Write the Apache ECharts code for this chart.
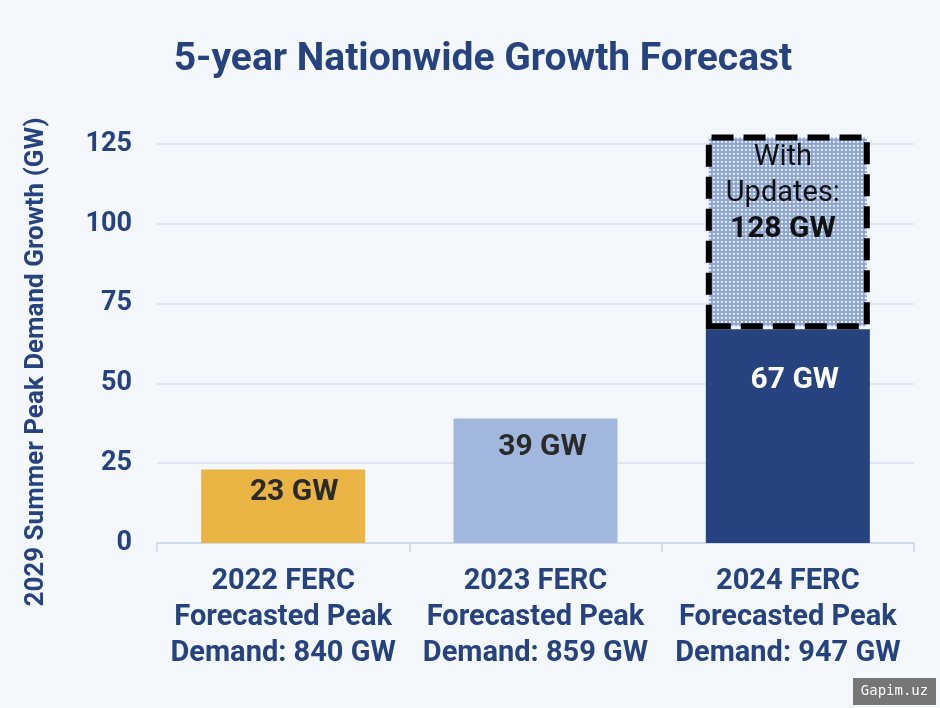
<!DOCTYPE html>
<html>
<head>
<meta charset="utf-8">
<script src="https://cdn.jsdelivr.net/npm/echarts@6/dist/echarts.min.js"></script>
<style>
  html, body { margin: 0; padding: 0; background: #f4f8fc; }
  #chart { width: 940px; height: 708px; }
</style>
</head>
<body>
<div id="chart"></div>
<script>
// data
var categories = [
  '2022 FERC\nForecasted Peak\nDemand: 840 GW',
  '2023 FERC\nForecasted Peak\nDemand: 859 GW',
  '2024 FERC\nForecasted Peak\nDemand: 947 GW'
];
var baseValues = [23, 39, 67];
var updateValues = ['-', '-', 61]; // 67 + 61 = 128 with updates
var barColors = ['#e9b443', '#a2b7de', '#26437f'];
var labelColors = ['#2a2a2a', '#2a2a2a', '#ffffff'];
var labelOffsets = [[11, 3], [7, 9], [7, 31]];
var yTicks = [0, 25, 50, 75, 100, 125];

var NAVY = '#27437f';

// small dotted tile for the "with updates" block
var tile = document.createElement('canvas');
tile.width = 4;
tile.height = 4;
var ctx = tile.getContext('2d');
ctx.fillStyle = '#8fa7d4';
ctx.fillRect(0, 0, 4, 4);
ctx.fillStyle = 'rgba(255,255,255,0.95)';
ctx.fillRect(1, 1, 1.8, 1.8);

var chart = echarts.init(document.getElementById('chart'));

var baseData = baseValues.map(function (v, i) {
  return {
    value: v,
    itemStyle: { color: barColors[i] },
    label: { color: labelColors[i], offset: labelOffsets[i] }
  };
});

var updateData = updateValues.map(function (v, i) {
  if (v === '-') return '-';
  return {
    value: v,
    itemStyle: {
      color: { image: tile, repeat: 'repeat' },
      borderColor: '#000',
      borderWidth: 6,
      borderType: [22, 10]
    }
  };
});

chart.setOption({
  backgroundColor: '#f4f8fc',
  animation: false,
  title: {
    text: '5-year Nationwide Growth Forecast',
    left: 478,
    top: 36,
    textAlign: 'center',
    textStyle: {
      fontFamily: 'Roboto',
      fontWeight: 'bold',
      fontSize: 39,
      color: NAVY
    }
  },
  grid: {
    left: 157,
    right: 26,
    top: 144,
    bottom: 165
  },
  xAxis: {
    type: 'category',
    data: categories,
    axisLine: { lineStyle: { color: '#c9d5e8', width: 1.5 } },
    axisTick: { show: true, length: 9, lineStyle: { color: '#c9d5e8', width: 1.5 } },
    axisLabel: {
      interval: 0,
      margin: 21,
      fontFamily: 'Roboto',
      fontWeight: 'bold',
      fontSize: 29,
      lineHeight: 36,
      color: NAVY
    }
  },
  yAxis: {
    type: 'value',
    min: yTicks[0],
    max: yTicks[yTicks.length - 1],
    interval: 25,
    axisLine: { show: false },
    axisTick: { show: false },
    splitLine: { lineStyle: { color: '#d8e1f0', width: 1.5 } },
    axisLabel: {
      margin: 25,
      fontFamily: 'Roboto',
      fontWeight: 'bold',
      fontSize: 27,
      color: NAVY
    }
  },
  series: [
    {
      type: 'bar',
      stack: 'total',
      barWidth: '65%',
      clip: false,
      data: baseData,
      label: {
        show: true,
        position: 'insideTop',
        formatter: '{c} GW',
        fontFamily: 'Roboto',
        fontWeight: 'bold',
        fontSize: 30
      }
    },
    {
      type: 'bar',
      stack: 'total',
      barWidth: '65%',
      clip: false,
      data: updateData,
      z: 3,
      label: {
        show: true,
        position: 'insideTop',
        distance: 5,
        offset: [-5, 0],
        formatter: function (p) {
          var total = baseValues[p.dataIndex] + p.value;
          return '{n|With}\n{n|Updates:}\n{b|' + total + ' GW}';
        },
        rich: {
          n: { fontFamily: 'Roboto', fontSize: 29, lineHeight: 36, color: '#111' },
          b: { fontFamily: 'Roboto', fontSize: 30, fontWeight: 'bold', lineHeight: 36, color: '#111' }
        }
      }
    }
  ],
  graphic: [
    {
      type: 'text',
      x: 36,
      y: 362,
      rotation: Math.PI / 2,
      style: {
        text: '2029 Summer Peak Demand Growth (GW)',
        fontFamily: 'Roboto',
        fontWeight: 'bold',
        fontSize: 26,
        fill: NAVY,
        align: 'center',
        verticalAlign: 'middle'
      }
    },
    {
      type: 'group',
      left: 853,
      top: 678,
      children: [
        {
          type: 'rect',
          shape: { x: 0, y: 0, width: 83, height: 27 },
          style: { fill: '#767676' }
        },
        {
          type: 'text',
          x: 41.5,
          y: 13.5,
          style: {
            text: 'Gapim.uz',
            fontFamily: 'DejaVu Sans Mono',
            fontSize: 14,
            fill: '#ffffff',
            align: 'center',
            verticalAlign: 'middle'
          }
        }
      ]
    }
  ]
});
</script>
</body>
</html>
